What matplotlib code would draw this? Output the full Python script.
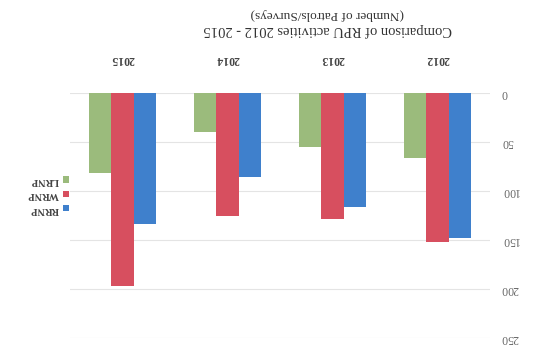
import numpy as np
import matplotlib
matplotlib.use('Agg')
import matplotlib.pyplot as plt

# The reference picture is rotated by 180 degrees, so the chart is drawn
# with inverted axes and upside-down text.

years = ['2012', '2013', '2014', '2015']
series_names = ['RRNP', 'WRNP', 'LRNP']
rrnp = [148, 116, 86, 134]
wrnp = [152, 129, 126, 197]
lrnp = [66, 55, 40, 82]
y_ticks = [0, 50, 100, 150, 200, 250]

colors = ['#3f80cc', '#d74f5f', '#9bbb7c']

fig = plt.figure(figsize=(5.37, 3.53), dpi=100)
ax = fig.add_axes([70 / 537, 1 - 338 / 353, 420 / 537, 245 / 353])

x = np.arange(len(years))
w = 0.21
for i, (vals, name) in enumerate(zip([rrnp, wrnp, lrnp], series_names)):
    ax.bar(x + (i - 1) * w, vals, width=w, color=colors[i], label=name, zorder=3)

ax.set_ylim(0, 250)
ax.set_xlim(-0.5, len(years) - 0.5)
ax.invert_yaxis()
ax.invert_xaxis()

ax.set_yticks(y_ticks)
ax.yaxis.tick_right()
ax.set_yticklabels([str(t) for t in y_ticks], rotation=180, fontsize=8.5,
                   color='#666666', family='Liberation Serif')
for lab in ax.get_yticklabels():
    lab.set_rotation_mode('anchor')
    lab.set_ha('right')
    lab.set_va('center')
ax.tick_params(axis='y', length=0, pad=8)

ax.set_xticks(x)
ax.xaxis.tick_top()
ax.set_xticklabels(years, rotation=180, fontsize=8.5, color='#444444',
                   family='Liberation Serif', fontweight='bold')
ax.tick_params(axis='x', length=0, pad=20)

ax.grid(axis='y', color='#e4e4e4', linewidth=0.8, zorder=0)
for s in ax.spines.values():
    s.set_visible(False)

fig.text(0.61, 1 - 14 / 353, '(Number of Patrols/Surveys)', rotation=180,
         ha='center', va='center', fontsize=9.5, color='#333333',
         family='Liberation Serif')
fig.text(0.61, 1 - 30 / 353, 'Comparison of RPU activities 2012 - 2015',
         rotation=180, ha='center', va='center', fontsize=10.5,
         color='#333333', family='Liberation Serif')

handles, labels = ax.get_legend_handles_labels()
leg = fig.legend(handles[::-1], labels[::-1], loc='center',
                 bbox_to_anchor=(48 / 537, 1 - 195 / 353), frameon=False,
                 markerfirst=False, handlelength=0.6, handleheight=0.6,
                 handletextpad=0.4, labelspacing=0.5,
                 prop={'family': 'Liberation Serif', 'size': 7.5, 'weight': 'bold'})
for t in leg.get_texts():
    t.set_rotation(180)
    t.set_color('#444444')

fig.savefig('out.png', dpi=100)
